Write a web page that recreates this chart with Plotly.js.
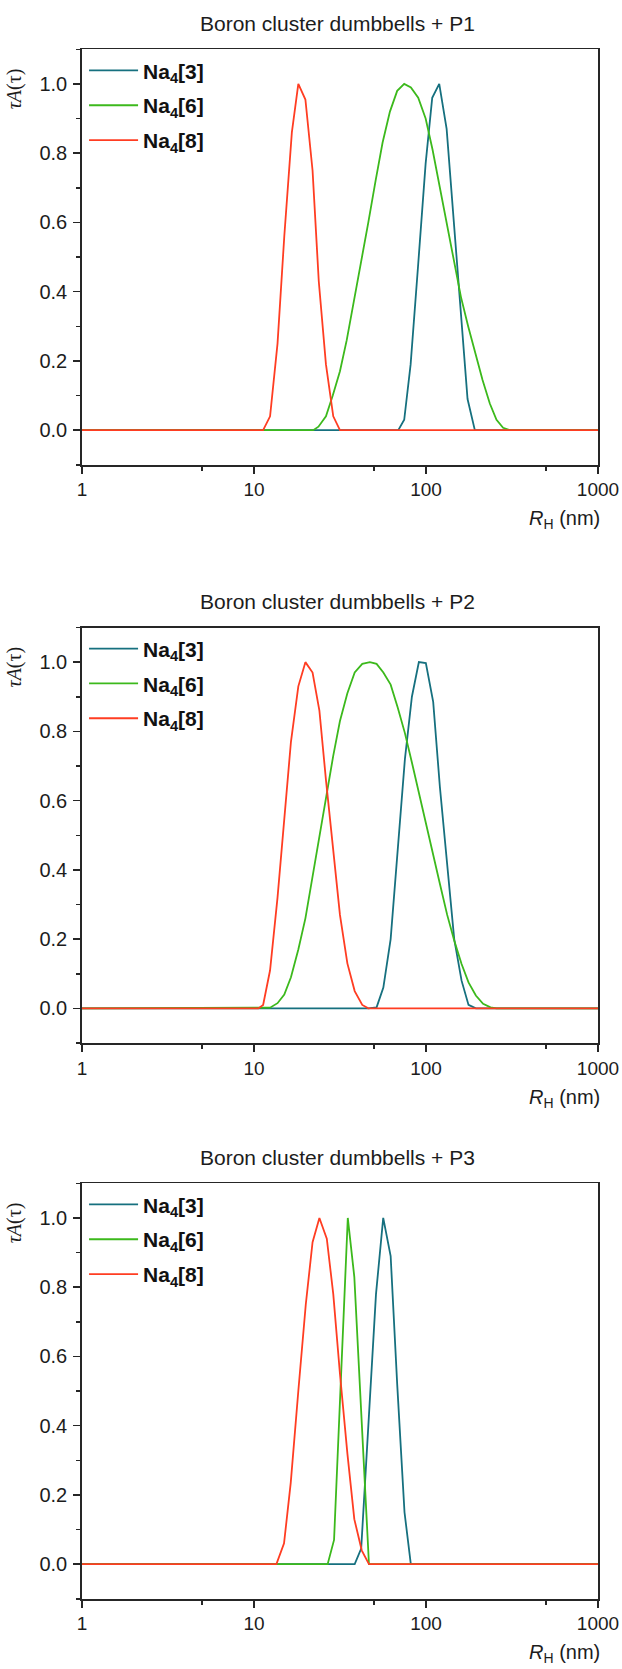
<!DOCTYPE html>
<html>
<head>
<meta charset="utf-8">
<script src="https://cdn.plot.ly/plotly-3.0.1.min.js"></script>
<style>html,body{margin:0;padding:0;background:#fff;}#chart{width:622px;height:1669px;}</style>
</head>
<body>
<div id="chart"></div>
<script>
// ---------- data (R_H in nm, tau*A(tau) normalised) ----------
const panelTitles = ["Boron cluster dumbbells + P1", "Boron cluster dumbbells + P2", "Boron cluster dumbbells + P3"];
const seriesNames = ["Na<sub>4</sub>[3]", "Na<sub>4</sub>[6]", "Na<sub>4</sub>[8]"];
const seriesColors = ["#16707f", "#3cb91c", "#ff3d22"];
const xTickVals = [1, 10, 100, 1000];
const xTickText = ["1", "10", "100", "1000"];
const xMinorVals = [5, 50, 500];
const yTickVals = [0, 0.2, 0.4, 0.6, 0.8, 1.0];
const yTickText = ["0.0", "0.2", "0.4", "0.6", "0.8", "1.0"];
const yMinorVals = [-0.1, 0.1, 0.3, 0.5, 0.7, 0.9, 1.1];

// Panel 1 (P1)
const p1_na3_x = [1, 69, 74.7, 81.4, 90.1, 99.5, 108.7, 119.4, 131.8, 145.3, 158.8, 174.4, 192.3, 1000];
const p1_na3_y = [0, 0, 0.03, 0.19, 0.48, 0.77, 0.96, 1.0, 0.87, 0.6, 0.34, 0.09, 0, 0];
const p1_na6_x = [1, 22.1, 23.7, 26.2, 28.7, 31.6, 34.6, 38.1, 41.9, 46.2, 50.9, 55.9, 61.7, 68.0, 74.7, 81.7, 90.1, 99.5, 109.2, 120.4, 132.2, 145.9, 159.6, 175.8, 194.1, 213.2, 235.0, 257.0, 280.7, 307, 1000];
const p1_na6_y = [0, 0, 0.01, 0.04, 0.10, 0.17, 0.26, 0.37, 0.48, 0.60, 0.72, 0.83, 0.92, 0.98, 1.0, 0.99, 0.96, 0.90, 0.81, 0.70, 0.59, 0.48, 0.385, 0.30, 0.22, 0.145, 0.077, 0.03, 0.007, 0, 0];
const p1_na8_x = [1, 11.3, 12.4, 13.7, 15.0, 16.6, 18.1, 19.9, 21.9, 23.8, 26.2, 28.9, 31.6, 1000];
const p1_na8_y = [0, 0, 0.04, 0.25, 0.56, 0.86, 1.0, 0.955, 0.75, 0.43, 0.19, 0.04, 0, 0];

// Panel 2 (P2)
const p2_na3_x = [1, 46.2, 51.6, 56.5, 62.3, 68.4, 75.4, 82.8, 90.9, 99.8, 110.1, 120.4, 132.8, 145.9, 161, 176.7, 194.9, 1000];
const p2_na3_y = [0, 0, 0.003, 0.06, 0.2, 0.45, 0.72, 0.9, 1.0, 0.997, 0.885, 0.64, 0.42, 0.2, 0.08, 0.01, 0, 0];
const p2_na6_x = [1, 11.3, 12.4, 13.7, 15.0, 16.4, 18.1, 19.9, 21.9, 24.0, 26.2, 28.9, 31.6, 34.9, 38.5, 42.6, 47.2, 51.6, 56.5, 62.3, 68.4, 75.4, 82.8, 90.9, 99.8, 110.1, 120.4, 132.8, 145.9, 161, 176.7, 194.9, 214.8, 237.2, 257, 1000];
const p2_na6_y = [0, 0, 0.002, 0.015, 0.04, 0.09, 0.17, 0.26, 0.38, 0.495, 0.61, 0.73, 0.83, 0.91, 0.97, 0.995, 1.0, 0.995, 0.97, 0.935, 0.87, 0.795, 0.71, 0.625, 0.54, 0.447, 0.36, 0.27, 0.196, 0.128, 0.075, 0.037, 0.013, 0.003, 0, 0];
const p2_na8_x = [1, 10.6, 11.3, 12.4, 13.7, 15.0, 16.4, 18.1, 19.9, 21.9, 24.0, 26.2, 28.9, 31.6, 34.9, 38.5, 42.6, 46.2, 1000];
const p2_na8_y = [0, 0, 0.01, 0.11, 0.32, 0.56, 0.77, 0.93, 1.0, 0.97, 0.86, 0.66, 0.45, 0.27, 0.13, 0.05, 0.01, 0, 0];

// Panel 3 (P3)
const p3_na3_x = [1, 38.5, 42.0, 46.6, 51.2, 56.4, 62.3, 68.0, 75.0, 81.6, 1000];
const p3_na3_y = [0, 0, 0.045, 0.42, 0.78, 1.0, 0.89, 0.52, 0.15, 0, 0];
const p3_na6_x = [1, 26.8, 29.2, 31.9, 35.1, 38.3, 42.3, 46.6, 1000];
const p3_na6_y = [0, 0, 0.07, 0.53, 1.0, 0.83, 0.4, 0, 0];
const p3_na8_x = [1, 13.5, 14.95, 16.35, 18.1, 20.0, 21.9, 24.0, 26.5, 28.9, 31.6, 34.9, 38.3, 42.3, 46.6, 1000];
const p3_na8_y = [0, 0, 0.06, 0.235, 0.5, 0.75, 0.93, 1.0, 0.94, 0.78, 0.55, 0.32, 0.13, 0.04, 0, 0];

const panels = [
  [[p1_na3_x, p1_na3_y], [p1_na6_x, p1_na6_y], [p1_na8_x, p1_na8_y]],
  [[p2_na3_x, p2_na3_y], [p2_na6_x, p2_na6_y], [p2_na8_x, p2_na8_y]],
  [[p3_na3_x, p3_na3_y], [p3_na6_x, p3_na6_y], [p3_na8_x, p3_na8_y]]
];

// ---------- layout geometry (pixels) ----------
const W = 622, H = 1669;
const ML = 82, MR = 24;
const plotTops = [49.3, 627.5, 1183.3];
const plotH = 415.5;
const py = v => 1 - v / H;

const SANS = 'Arial, "Liberation Sans", Helvetica, sans-serif';
const SERIF = '"Times New Roman", "Liberation Serif", serif';
const INK = '#1c1c1c';
const AX = '#262626';

const traces = [];
const layout = {
  width: W, height: H,
  margin: {l: ML, r: MR, t: 0, b: 0, pad: 0},
  paper_bgcolor: '#ffffff', plot_bgcolor: '#ffffff',
  font: {family: SANS, color: INK, size: 18},
  annotations: [],
  showlegend: true
};

panels.forEach((series, p) => {
  const sfx = p === 0 ? '' : String(p + 1);
  const top = plotTops[p], bot = plotTops[p] + plotH;
  series.forEach((xy, s) => {
    traces.push({
      type: 'scatter', mode: 'lines',
      x: xy[0], y: xy[1],
      name: seriesNames[s],
      legendgroup: 'g' + p + '_' + s,
      legend: 'legend' + sfx,
      xaxis: 'x' + sfx, yaxis: 'y' + sfx,
      line: {color: seriesColors[s], width: 1.8},
      hoverinfo: 'skip'
    });
  });
  layout['xaxis' + sfx] = {
    type: 'log', range: [0, 3], domain: [0, 1], anchor: 'y' + sfx,
    tickmode: 'array', tickvals: xTickVals, ticktext: xTickText,
    ticks: 'outside', ticklen: 7, tickwidth: 1.5, tickcolor: AX,
    showline: true, linecolor: AX, linewidth: 1.8, mirror: true,
    showgrid: false, zeroline: false, automargin: false,
    ticklabelposition: 'outside', ticklabeloverflow: 'allow',
    tickfont: {family: SANS, size: 19, color: INK},
    minor: {tickmode: 'array', tickvals: xMinorVals, ticks: 'outside', ticklen: 4, tickwidth: 1.5, tickcolor: AX, showgrid: false},
    fixedrange: true
  };
  layout['yaxis' + sfx] = {
    range: [-0.1, 1.1], domain: [py(bot), py(top)], anchor: 'x' + sfx,
    tickmode: 'array', tickvals: yTickVals, ticktext: yTickText,
    ticks: 'outside', ticklen: 7, tickwidth: 1.5, tickcolor: AX,
    showline: true, linecolor: AX, linewidth: 1.8, mirror: true,
    showgrid: false, zeroline: false, automargin: false,
    ticklabeloverflow: 'allow', ticklabelstandoff: 2,
    tickfont: {family: SANS, size: 20, color: INK},
    minor: {tickmode: 'array', tickvals: yMinorVals, ticks: 'outside', ticklen: 4, tickwidth: 1.5, tickcolor: AX, showgrid: false},
    fixedrange: true
  };
  layout['legend' + sfx] = {
    x: 0.004, xanchor: 'left', xref: 'paper',
    y: py(top + 1), yanchor: 'top', yref: 'paper',
    bgcolor: 'rgba(0,0,0,0)', borderwidth: 0,
    font: {family: SANS, size: 21, color: '#111', weight: 'bold'},
    itemwidth: 49, tracegroupgap: 4.5, traceorder: 'grouped'
  };
  // panel title
  layout.annotations.push({
    text: panelTitles[p], showarrow: false,
    xref: 'paper', yref: 'paper', x: 0.495, y: py(top - 26), xanchor: 'center', yanchor: 'middle',
    font: {family: SANS, size: 21, color: INK}
  });
  // y title
  layout.annotations.push({
    text: '<i>τA</i>(τ)', showarrow: false, textangle: -90,
    xref: 'paper', yref: 'paper', x: (14 - ML) / (W - ML - MR), y: py(top + 40), xanchor: 'center', yanchor: 'middle',
    font: {family: SERIF, size: 20, color: INK}
  });
  // x title
  layout.annotations.push({
    text: '<i>R</i><sub>H</sub> (nm)', showarrow: false,
    xref: 'paper', yref: 'paper', x: 1.008, y: py(bot + 55), xanchor: 'right', yanchor: 'middle',
    font: {family: SANS, size: 20, color: INK}
  });
});

Plotly.newPlot('chart', traces, layout, {displayModeBar: false, staticPlot: true});
</script>
</body>
</html>
